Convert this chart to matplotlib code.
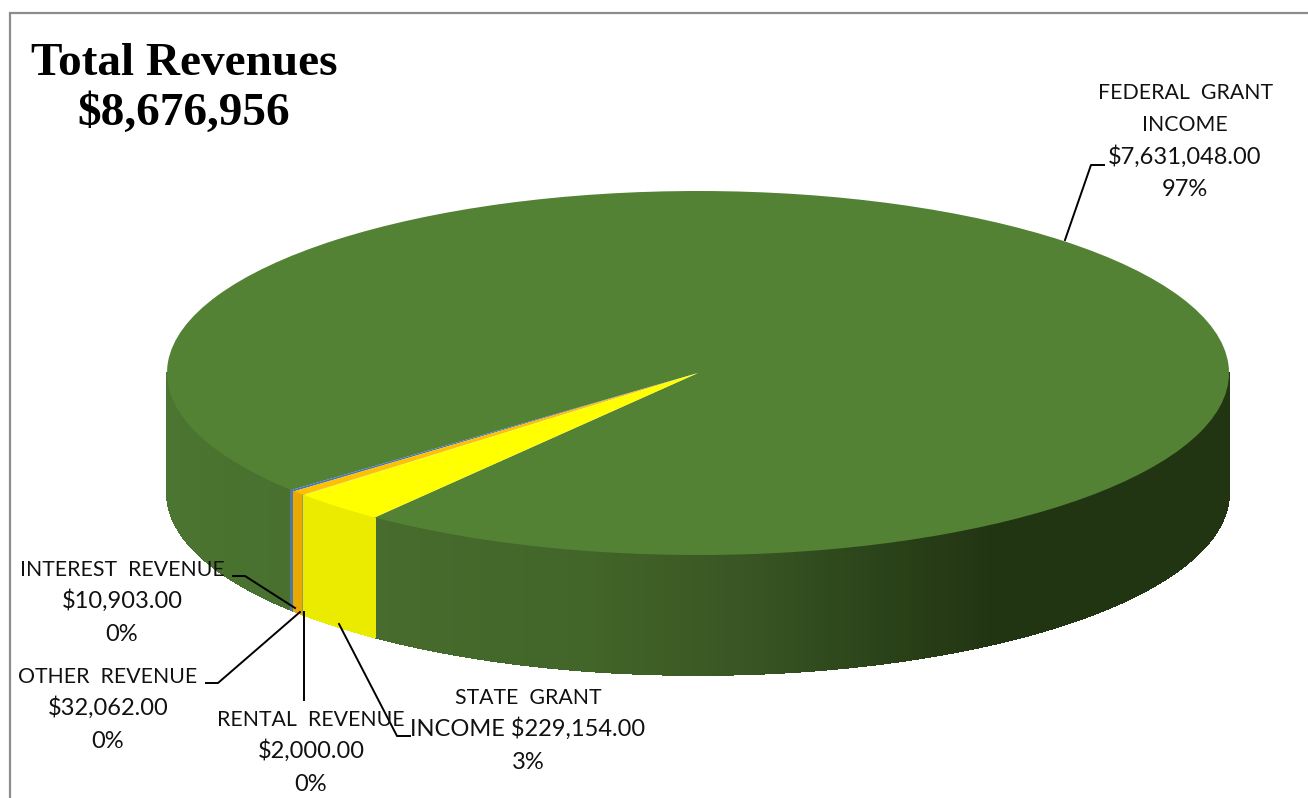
import numpy as np
import matplotlib
matplotlib.use("Agg")
import matplotlib.pyplot as plt
from matplotlib.collections import PolyCollection
from matplotlib.colors import to_rgb
from matplotlib.transforms import Affine2D

# Revenue lines, in the counter-clockwise order the slices sit on the pie
names = [["FEDERAL  GRANT", "INCOME"], ["INTEREST  REVENUE"], ["OTHER  REVENUE"],
         ["RENTAL  REVENUE"], ["STATE  GRANT"]]
values = [7631048.00, 10903.00, 32062.00, 2000.00, 229154.00]
title = ["Total Revenues", "$8,676,956"]

top_colors = ["#548235", "#4472c4", "#ffc000", "#a5a5a5", "#ffff00"]
side_colors = [None, "#4f78a0", "#e9a900", "#9a9a60", "#ebeb00"]
# federal wall gets darker towards the right
shade_cos = [-1.0, -0.61, -0.2, 0.1, 0.3, 0.55, 1.0]
shade_col = ["#4b7530", "#476c2d", "#426529", "#385523", "#2d461b", "#223513", "#223513"]

start_angle = 232.5
depth = 120 / 182  # wall height in pie units (the top is squashed by the axes)

W, H = 1308, 798
fig = plt.figure(figsize=(W / 100, H / 100), dpi=100)
ax = fig.add_axes([0, 0, 1, 1])

ax.pie(values, colors=top_colors, startangle=start_angle, radius=1,
       wedgeprops={"linewidth": 0}, normalize=True)
for w in ax.patches:
    w.set_zorder(3)
ax.set_aspect("auto")
ax.set_xlim((0 - 698) / 531, (W - 698) / 531)
ax.set_ylim((373 - H) / 182, 373 / 182)
ax.axis("off")

# side wall of the pie, only the part facing the viewer
shade_rgb = np.array([to_rgb(c) for c in shade_col])
polys, cols = [], []
fracs = np.array(values) / sum(values) * 360
a0 = start_angle
for i, f in enumerate(fracs):
    t = np.radians(np.linspace(a0, a0 + f, max(int(f * 2), 2) + 1))
    for t1, t2 in zip(t[:-1], t[1:]):
        if np.sin((t1 + t2) / 2) > 0:
            continue
        x1, x2 = np.cos(t1), np.cos(t2)
        y1, y2 = np.sin(t1), np.sin(t2)
        polys.append([(x1, y1), (x2, y2), (x2, y2 - depth), (x1, y1 - depth)])
        if side_colors[i] is None:
            c = np.cos((t1 + t2) / 2)
            cols.append([np.interp(c, shade_cos, shade_rgb[:, k]) for k in range(3)])
        else:
            cols.append(to_rgb(side_colors[i]))
    a0 += f
ax.add_collection(PolyCollection(polys, facecolors=cols, edgecolors=cols,
                                 linewidths=0.6, antialiaseds=False, zorder=2))

# everything below is placed in reference pixels, y going down
px = Affine2D().scale(1 / W, -1 / H).translate(0, 1) + fig.transFigure

# chart border
ax.plot([10, 10, W], [H, 13, 13], color="#8c8c8c", lw=1.6, transform=px,
        clip_on=False, solid_joinstyle="miter", zorder=1)

for line, y in zip(title, [75, 125]):
    ax.text(184, y, line, transform=px, ha="center", va="baseline", fontsize=34,
            fontweight="bold", family="Liberation Serif", color="black")

# centre x and first baseline of each label
label_pos = [(1185, 99), (122, 576), (108, 683), (311, 726), (528, 704)]
line_gap = 32.3
leaders = [
    [(1065, 240), (1091, 165), (1104, 165)],
    [(233, 576), (245, 576), (295, 608)],
    [(206, 683), (218, 683), (300, 612)],
    [(303.7, 612), (303.7, 700)],
    [(339, 624), (397, 736), (410, 736)],
]
total = sum(values)
for i in range(len(values)):
    money = "${:,.2f}".format(values[i])
    pct = "{:.0f}%".format(values[i] / total * 100)
    x, y = label_pos[i]
    for n in names[i]:
        ax.text(x, y, n, transform=px, ha="center", va="baseline", fontsize=15.3,
                family="Lato", color="#111111", zorder=6)
        y += line_gap
    if i == 4:
        # this one wraps differently in the original
        money = "INCOME " + money
    ax.text(x, y, money, transform=px, ha="center", va="baseline", fontsize=17,
            family="Lato", color="#111111", zorder=6)
    ax.text(x, y + line_gap, pct, transform=px, ha="center", va="baseline", fontsize=17,
            family="Lato", color="#111111", zorder=6)
    lx, ly = zip(*leaders[i])
    ax.plot(lx, ly, color="black", lw=1.4, transform=px, clip_on=False, zorder=5)

fig.savefig("out.png", dpi=100)
